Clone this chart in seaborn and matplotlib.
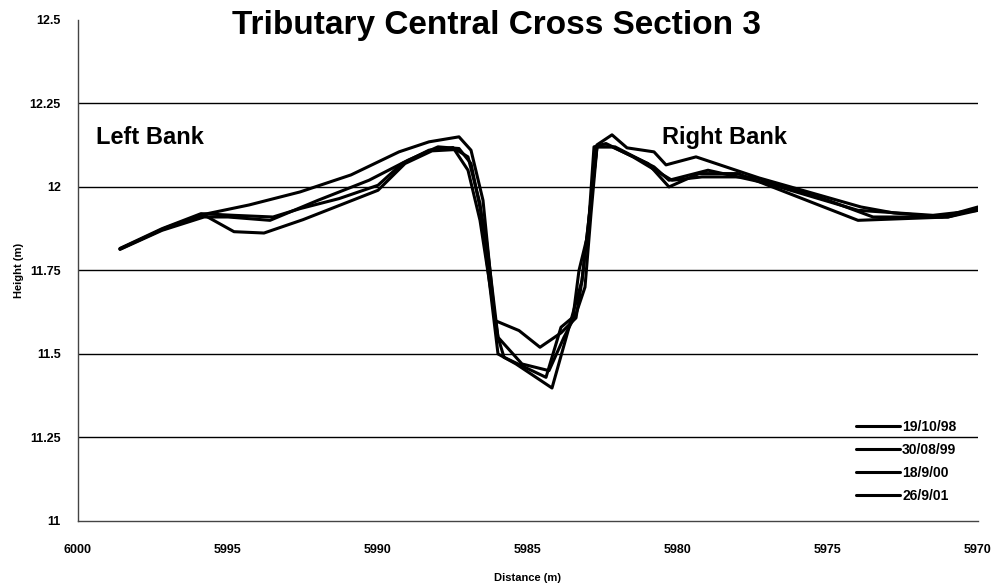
import matplotlib
matplotlib.use("Agg")
import matplotlib.pyplot as plt
import pandas as pd
import seaborn as sns

# survey dates and (distance, height) per survey
surveys = ["19/10/98", "30/08/99", "18/9/00", "26/9/01"]

dist_98 = [5998.6, 5997.2, 5995.8, 5994.8, 5993.8, 5992.5, 5990.0, 5989.1, 5988.2, 5987.4,
           5987.0, 5986.6, 5986.0, 5985.4, 5984.2, 5983.6, 5983.2, 5982.9, 5982.7, 5982.2,
           5981.0, 5980.3, 5979.3, 5978.0, 5976.0, 5974.0, 5972.5, 5971.0, 5970.0]
height_98 = [11.815, 11.872, 11.916, 11.866, 11.862, 11.902, 11.99, 12.07, 12.108, 12.112,
             12.09, 11.95, 11.50, 11.47, 11.398, 11.59, 11.72, 11.96, 12.12, 12.12,
             12.07, 12.00, 12.04, 12.04, 11.97, 11.90, 11.905, 11.91, 11.935]

dist_99 = [5998.6, 5997.1, 5995.9, 5994.3, 5992.6, 5990.9, 5989.3, 5988.3, 5987.3, 5986.9,
           5986.5, 5986.1, 5985.3, 5984.6, 5983.9, 5983.4, 5983.2, 5982.9, 5982.7, 5982.2,
           5981.7, 5980.8, 5980.4, 5979.4, 5977.3, 5973.9, 5972.8, 5971.2, 5970.0]
height_99 = [11.814, 11.877, 11.916, 11.946, 11.985, 12.036, 12.105, 12.135, 12.15, 12.11,
             11.96, 11.60, 11.57, 11.52, 11.563, 11.608, 11.72, 11.96, 12.126, 12.156,
             12.117, 12.105, 12.066, 12.09, 12.027, 11.94, 11.922, 11.91, 11.94]

dist_00 = [5998.6, 5997.2, 5995.9, 5994.8, 5993.5, 5992.6, 5991.3, 5990.0, 5989.2, 5988.3,
           5987.5, 5987.0, 5986.6, 5986.0, 5985.2, 5984.3, 5983.8, 5983.4, 5983.1, 5982.9,
           5982.7, 5982.1, 5980.8, 5980.3, 5979.0, 5977.0, 5974.0, 5971.5, 5970.0]
height_00 = [11.816, 11.875, 11.92, 11.915, 11.91, 11.935, 11.965, 12.005, 12.07, 12.11,
             12.118, 12.05, 11.90, 11.55, 11.47, 11.45, 11.55, 11.62, 11.70, 11.92,
             12.12, 12.12, 12.06, 12.02, 12.05, 12.01, 11.93, 11.915, 11.93]

dist_01 = [5998.6, 5997.2, 5995.8, 5995.0, 5993.6, 5992.0, 5990.3, 5989.0, 5988.0, 5987.3,
           5986.9, 5986.4, 5986.0, 5985.8, 5984.4, 5983.9, 5983.5, 5983.3, 5983.0, 5982.8,
           5982.4, 5981.5, 5980.2, 5979.2, 5977.5, 5975.0, 5973.5, 5971.0, 5970.0]
height_01 = [11.813, 11.87, 11.91, 11.91, 11.90, 11.96, 12.02, 12.08, 12.12, 12.115,
             12.07, 11.85, 11.55, 11.49, 11.43, 11.58, 11.61, 11.75, 11.86, 12.12,
             12.13, 12.09, 12.02, 12.03, 12.03, 11.96, 11.91, 11.91, 11.93]

x_ticks = [6000, 5995, 5990, 5985, 5980, 5975, 5970]
y_ticks = [11, 11.25, 11.5, 11.75, 12, 12.25, 12.5]
y_tick_labels = ["11", "11.25", "11.5", "11.75", "12", "12.25", "12.5"]


def main() -> None:
    frames = []
    for name, d, h in zip(surveys,
                          [dist_98, dist_99, dist_00, dist_01],
                          [height_98, height_99, height_00, height_01]):
        frames.append(pd.DataFrame({"distance": d, "height": h, "survey": name}))
    df = pd.concat(frames, ignore_index=True)

    sns.set_style("white")
    plt.rcParams["font.family"] = ["Liberation Sans", "DejaVu Sans"]
    plt.rcParams["font.weight"] = "bold"
    plt.rcParams["text.color"] = "black"
    plt.rcParams["axes.labelcolor"] = "black"

    fig = plt.figure(figsize=(10, 5.86), dpi=100)
    ax = fig.add_axes([0.078, 0.111, 0.9, 0.855])

    sns.lineplot(data=df, x="distance", y="height", hue="survey", hue_order=surveys,
                 palette=["black"] * 4, estimator=None, sort=False, linewidth=2.2, ax=ax)

    ax.set_xlim(6000, 5970)
    ax.set_ylim(11, 12.5)
    ax.set_xticks(x_ticks)
    ax.set_xticklabels([str(t) for t in x_ticks], fontsize=9, fontweight="bold")
    ax.set_yticks(y_ticks)
    ax.set_yticklabels(y_tick_labels, fontsize=9, fontweight="bold")
    ax.tick_params(axis="both", direction="inout", length=5, width=0.8, colors="#444444",
                   labelcolor="black")
    ax.tick_params(axis="x", pad=14)
    ax.tick_params(axis="y", pad=10)

    ax.yaxis.grid(True, color="black", linewidth=1.0)
    ax.get_ygridlines()[-1].set_visible(False)
    ax.get_ygridlines()[0].set_visible(False)

    for side in ["top", "right"]:
        ax.spines[side].set_visible(False)
    for side in ["left", "bottom"]:
        ax.spines[side].set_color("#444444")
        ax.spines[side].set_linewidth(1.0)

    ax.set_xlabel("Distance (m)", fontsize=8, fontweight="bold", labelpad=12)
    ax.set_ylabel("Height (m)", fontsize=8, fontweight="bold", labelpad=4)

    ax.text(5999.4, 12.147, "Left Bank", fontsize=17, fontweight="bold", va="center")
    ax.text(5980.55, 12.147, "Right Bank", fontsize=17, fontweight="bold", va="center")

    fig.text(0.497, 0.957, "Tributary Central Cross Section 3", ha="center", va="center",
             fontsize=24, fontweight="bold")

    ax.legend(loc="upper left", bbox_to_anchor=(0.864, 0.201), frameon=False,
              fontsize=10, handlelength=3.2, handletextpad=0.15, labelspacing=0.65,
              borderaxespad=0, borderpad=0)

    fig.savefig("out.png", dpi=100)


if __name__ == "__main__":
    main()
